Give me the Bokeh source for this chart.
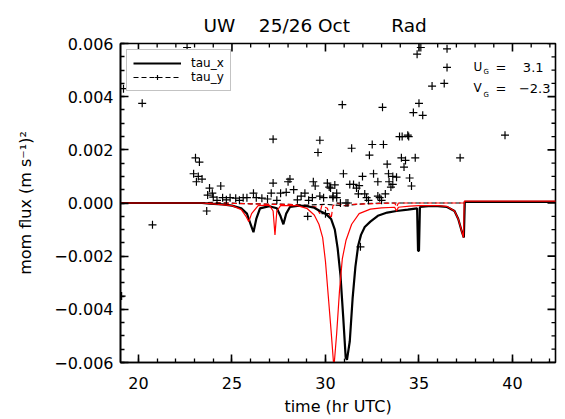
from bokeh.plotting import figure
from bokeh.models import Range1d, FixedTicker, Legend, LegendItem, Label, Title
from bokeh.embed import file_html
from bokeh.resources import INLINE

# ---------------- data ----------------
tx_x = [19.0, 23.4, 23.8, 24.5, 25.0, 25.5, 25.8, 26.0, 26.15, 26.3, 26.5, 27.0,
        27.4, 27.6, 27.75, 27.9, 28.1, 28.6, 29.0, 29.4, 29.7, 30.0, 30.3, 30.5,
        30.65, 30.8, 30.95, 31.08, 31.15, 31.3, 31.45, 31.6, 31.75, 31.9, 32.1,
        32.4, 32.8, 33.3, 33.8, 34.4, 34.9, 34.95, 35.0, 35.05, 35.5, 36.0, 36.5,
        36.9, 37.1, 37.3, 37.4, 37.45, 42.8]
tx_obs = [0.0, 0.0, -0.00002, -0.00005, -0.0001, -0.0002, -0.0004, -0.0008, -0.0011,
          -0.0006, -0.0002, -0.00012, -0.0002, -0.0005, -0.0008, -0.0004, -0.00015,
          -0.0001, -0.00012, -0.00018, -0.0003, -0.0004, -0.0006, -0.001, -0.0017,
          -0.0027, -0.0043, -0.0058, -0.0059, -0.0052, -0.0036, -0.0024, -0.0016,
          -0.0012, -0.0009, -0.0007, -0.00048, -0.00036, -0.0003, -0.00025, -0.0002,
          -0.0018, -0.0018, -0.00015, -0.00012, -0.00012, -0.00015, -0.0003, -0.0006,
          -0.0011, -0.0013, 0.00004, 0.00004]

tx_mod_x = [19.0, 23.4, 24.0, 25.0, 25.5, 25.75, 25.9, 26.05, 26.4, 27.0, 27.2, 27.3,
            27.4, 27.6, 28.5, 29.0, 29.4, 29.65, 29.85, 30.0, 30.15, 30.3, 30.45,
            30.6, 30.75, 30.9, 31.1, 31.4, 31.8, 32.4, 33.0, 33.7, 33.8, 33.9, 34.5,
            35.0, 36.0, 36.5, 36.9, 37.1, 37.3, 37.38, 37.42, 42.8]
tx_mod = [0.0, 0.0, -0.00003, -0.0001, -0.00025, -0.0005, -0.0007, -0.0004, -0.0001,
          -0.00008, -0.0003, -0.0012, -0.0003, -0.0001, -0.0001, -0.0002, -0.00045,
          -0.0008, -0.0013, -0.0022, -0.0035, -0.0048, -0.0062, -0.0049, -0.0033,
          -0.0021, -0.0014, -0.0008, -0.0004, -0.00023, -0.00018, -0.00016, -0.0003,
          -0.00016, -0.00012, -0.0001, -0.0001, -0.00013, -0.0003, -0.0006, -0.0011,
          -0.0013, 0.00007, 0.00007]

ty_x = [19.0, 24.0, 26.0, 28.0, 29.0, 30.0, 31.0, 32.0, 33.0, 35.0, 37.4]
ty_obs = [0.0, 0.00002, -0.00003, -0.00005, -0.00008, -0.00005, -0.0001, -0.00003,
          0.0, 0.0, 0.0]

ty_mod_x = [19.0, 24.0, 26.0, 27.0, 28.0, 29.0, 29.5, 29.7, 29.8, 30.1, 30.3, 30.4,
            30.6, 31.0, 31.5, 33.7, 33.8, 33.9, 37.4]
ty_mod = [0.0, 0.0, -0.00003, -0.00005, -0.00005, -0.0001, -0.00015, -0.0004, -0.0001,
          -0.0002, -0.0006, -0.0001, 0.0, -0.0001, -0.00005, 0.0, -0.00015, 0.0, 0.0]

pts_x = [19.1, 19.2, 20.2, 20.75, 22.6, 23.05, 23.26, 22.95, 23.2, 23.4, 23.1, 23.65,
         23.8, 23.95, 23.7, 24.4, 24.0, 24.5, 24.9, 25.2, 25.6, 25.8, 26.15, 26.3,
         26.6, 27.1, 27.2, 27.6, 28.0, 28.1, 27.9, 28.3, 28.7, 28.9, 29.35, 29.45,
         30.1, 30.5, 30.6, 29.7, 29.3, 29.9, 30.4, 29.6, 29.05, 27.2, 29.7,
         24.2, 24.7, 25.4, 26.9, 27.4, 28.5, 29.1, 30.0, 30.2, 30.27,
         34.9, 35.1, 36.5, 36.5, 35.7, 36.35, 30.9, 33.05, 35.0, 34.7, 35.2, 39.6,
         33.96, 34.1, 34.4, 34.45, 31.4, 32.5, 33.1, 32.35, 34.06, 34.28, 34.8, 37.2,
         33.3, 34.2, 30.96, 31.98, 32.57, 33.37, 33.6, 33.8, 34.5, 32.8, 33.4, 31.3,
         31.5, 31.8, 33.6, 33.5, 34.6, 31.66, 33.2, 31.76, 32.1, 32.2, 32.8, 32.9,
         33.0, 30.6, 30.4, 30.8, 31.1, 31.2, 32.3, 31.87]
pts_y = [-0.0035, 0.0043, 0.00375, -0.00082, 0.00585, 0.0017, 0.00154, 0.0011, 0.001,
         0.0009, 0.0008, -0.0003, 0.00056, 0.00037, 0.0003, 0.00064, 0.00022, 0.0002,
         0.0002, 0.00018, 0.0002, 0.0002, 0.00037, 0.0002, 0.00018, 0.00037, 0.00075,
         0.00037, 0.0008, 0.0009, 0.0004, 0.0005, 0.00026, 0.00037, 0.0008, 0.00064,
         0.00075, 0.00068, 0.00037, 0.00026, 0.0002, 0.0002, 0.00026, 0.0019, -0.0005,
         0.0024, 0.00236,
         0.0001, 0.00012, 0.0001, 0.00015, 0.0001, 0.00012, 0.0001, -0.0004, 0.0006,
         0.00056,
         0.0056, 0.00585, 0.0058, 0.0051, 0.0044, 0.0045, 0.0037, 0.0036, 0.00375,
         0.0034, 0.0033, 0.00255, 0.0025, 0.0025, 0.00255, 0.0025, 0.00206, 0.0022,
         0.0022, 0.0018, 0.0017, 0.0016, 0.0017, 0.0017, 0.00146, 0.00135, 0.0011,
         0.001, 0.0011, 0.0011, 0.001, 0.00097, 0.00094, 0.0008, 0.0008, 0.0007,
         0.0007, 0.00065, 0.0007, 0.0006, 0.00064, 0.00056, 0.00034, 0.00034, 0.00034,
         0.0002, 0.00026, 0.0002, 0.0001, 0.0002, 0.0002, 0.0, 0.0, 0.0, 0.0001,
         -0.00165]

x_ticks = [20, 25, 30, 35, 40]
x_minor = list(range(19, 43))
y_ticks = [-0.006, -0.004, -0.002, 0.0, 0.002, 0.004, 0.006]
y_tick_labels = ["\u22120.006", "\u22120.004", "\u22120.002", "0.000", "0.002",
                 "0.004", "0.006"]
y_minor = [round(-0.006 + 0.0005 * i, 4) for i in range(25)]

NB = "\u00a0"
title_text = "UW" + NB * 4 + "25/26 Oct" + NB * 7 + "Rad"
ug_text = "3.1"
vg_text = "\u22122.3"

FONT = "DejaVu Sans"
X0, X1 = 19.04, 42.3
Y0, Y1 = -0.006, 0.006

# ---------------- figure ----------------
p = figure(width=557, height=418, output_backend="svg", toolbar_location=None,
           x_range=Range1d(X0, X1), y_range=Range1d(Y0, Y1),
           min_border_left=120, min_border_right=2, min_border_top=43,
           min_border_bottom=55)
p.background_fill_color = "white"
p.border_fill_color = "white"
p.outline_line_color = "black"
p.outline_line_width = 1.6
p.grid.visible = False

p.title = Title(text=title_text, text_font=FONT, text_font_size="18.5px",
                text_font_style="normal", text_color="black", align="left",
                offset=83, standoff=16)


def style_axis(ax):
    ax.axis_line_color = "black"
    ax.axis_line_width = 1.6
    ax.major_tick_in = 8
    ax.major_tick_out = 0
    ax.minor_tick_in = 4
    ax.minor_tick_out = 0
    ax.major_tick_line_color = "black"
    ax.major_tick_line_width = 1.6
    ax.minor_tick_line_color = "black"
    ax.minor_tick_line_width = 1.3
    ax.major_label_text_font = FONT
    ax.major_label_text_font_size = "16px"
    ax.major_label_text_color = "black"
    ax.axis_label_text_font = FONT
    ax.axis_label_text_font_size = "16px"
    ax.axis_label_text_font_style = "normal"
    ax.axis_label_text_color = "black"


p.xaxis.ticker = FixedTicker(ticks=x_ticks, minor_ticks=x_minor)
p.yaxis.ticker = FixedTicker(ticks=y_ticks, minor_ticks=y_minor)
p.xaxis.axis_label = "time (hr UTC)"
p.yaxis.axis_label = "mom flux (m s\u207b\u00b9)\u00b2"
p.yaxis.major_label_overrides = {v: s for v, s in zip(y_ticks, y_tick_labels)}
p.xaxis.major_label_standoff = 14
p.xaxis.axis_label_standoff = 5
p.yaxis.major_label_standoff = 7
p.yaxis.axis_label_standoff = 16
style_axis(p.xaxis[0])
style_axis(p.yaxis[0])

# inward ticks on the top and right frame edges (derived from the tick lists)
px_per_x = 435.0 / (X1 - X0)
px_per_y = 320.0 / (Y1 - Y0)
maj_dy, min_dy = 8 / px_per_y, 4 / px_per_y
maj_dx, min_dx = 8 / px_per_x, 4 / px_per_x
xm_minor = [v for v in x_minor if X0 < v < X1 and v not in x_ticks]
p.segment(x0=x_ticks, y0=[Y1] * len(x_ticks), x1=x_ticks,
          y1=[Y1 - maj_dy] * len(x_ticks), line_color="black", line_width=1.6)
p.segment(x0=xm_minor, y0=[Y1] * len(xm_minor), x1=xm_minor,
          y1=[Y1 - min_dy] * len(xm_minor), line_color="black", line_width=1.3)
ym_minor = [v for v in y_minor if v not in y_ticks]
p.segment(x0=[X1] * len(y_ticks), y0=y_ticks, x1=[X1 - maj_dx] * len(y_ticks),
          y1=y_ticks, line_color="black", line_width=1.6)
p.segment(x0=[X1] * len(ym_minor), y0=ym_minor, x1=[X1 - min_dx] * len(ym_minor),
          y1=ym_minor, line_color="black", line_width=1.3)

# ---------------- glyphs ----------------
ty_line = p.line(ty_x, ty_obs, line_color="black", line_width=1.2, line_dash="5 3")
p.line(ty_mod_x, ty_mod, line_color="red", line_width=1.2, line_dash="5 3")
tx_line = p.line(tx_x, tx_obs, line_color="black", line_width=2.2)
p.line(tx_mod_x, tx_mod, line_color="red", line_width=1.2)
sc = p.scatter(pts_x, pts_y, marker="cross", size=8, line_color="black",
               line_width=1.2)

legend = Legend(items=[LegendItem(label="tau_x", renderers=[tx_line]),
                       LegendItem(label="tau_y", renderers=[ty_line, sc])],
                location="top_left", margin=6, padding=6, spacing=0,
                glyph_width=48, glyph_height=12, label_standoff=10,
                label_text_font=FONT, label_text_font_size="12px",
                label_text_color="black", label_height=12,
                border_line_color="#888888", border_line_width=1,
                background_fill_alpha=1.0)
p.add_layout(legend)

# U_G / V_G annotations
lab_kw = dict(text_font=FONT, text_color="black", text_baseline="alphabetic")
p.add_layout(Label(x=37.92, y=0.0051, text="U", text_font_size="12px", **lab_kw))
p.add_layout(Label(x=38.45, y=0.00493, text="G", text_font_size="7px", **lab_kw))
p.add_layout(Label(x=39.09, y=0.0051, text="=", text_font_size="13px", **lab_kw))
p.add_layout(Label(x=41.66, y=0.0051, text=ug_text, text_font_size="13px",
                   text_align="right", **lab_kw))
p.add_layout(Label(x=37.92, y=0.00431, text="V", text_font_size="12px", **lab_kw))
p.add_layout(Label(x=38.45, y=0.00405, text="G", text_font_size="7px", **lab_kw))
p.add_layout(Label(x=39.09, y=0.00431, text="=", text_font_size="13px", **lab_kw))
p.add_layout(Label(x=42.03, y=0.00431, text=vg_text, text_font_size="13px",
                   text_align="right", **lab_kw))

open("out.html", "w").write(file_html(p, INLINE))
